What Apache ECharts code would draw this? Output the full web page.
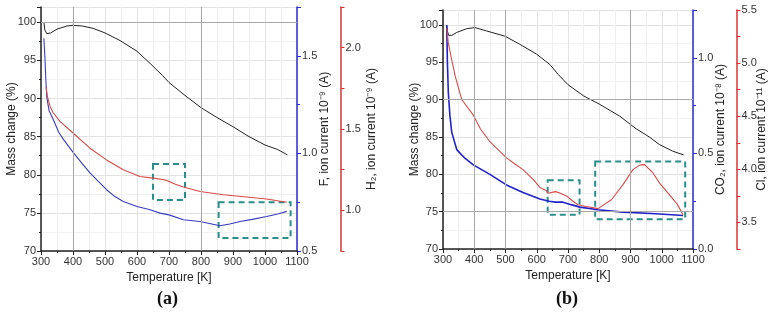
<!DOCTYPE html>
<html>
<head>
<meta charset="utf-8">
<script src="https://cdn.jsdelivr.net/npm/echarts@6/dist/echarts.min.js"></script>
<style>
  html, body { margin: 0; padding: 0; background: #fff; }
  #chart { width: 776px; height: 313px; }
</style>
</head>
<body>
<div id="chart"></div>
<script>
  // panel (a)
  const tempMassA = [309, 312, 318, 330, 350, 380, 400, 430, 463, 500, 547, 600, 641, 680, 700, 750, 800, 850, 900, 950, 1000, 1040, 1070]
  const massA = [100.0, 99.0, 98.5, 98.6, 99.1, 99.5, 99.6, 99.5, 99.2, 98.6, 97.6, 96.2, 94.6, 93.0, 92.1, 90.4, 88.8, 87.5, 86.3, 85.0, 83.9, 83.3, 82.6]
  const tempFA = [309, 312, 315, 318, 325, 338, 355, 370, 401, 430, 453, 480, 505, 530, 557, 600, 641, 672, 700, 745, 797, 830, 859, 890, 922, 960, 1005, 1040, 1068]
  const fCurrent = [1.59, 1.50, 1.38, 1.29, 1.22, 1.175, 1.11, 1.072, 1.004, 0.945, 0.90, 0.855, 0.814, 0.78, 0.754, 0.728, 0.711, 0.694, 0.685, 0.66, 0.651, 0.640, 0.629, 0.638, 0.651, 0.662, 0.677, 0.690, 0.703]
  const tempH2A = [316, 320, 328, 338, 360, 401, 453, 505, 557, 609, 651, 680, 693, 720, 745, 797, 870, 943, 1005, 1068]
  const h2Current = [1.76, 1.70, 1.64, 1.60, 1.545, 1.474, 1.382, 1.31, 1.249, 1.208, 1.198, 1.19, 1.184, 1.16, 1.143, 1.116, 1.096, 1.082, 1.07, 1.05]

  // panel (b)
  const tempMassB = [312, 314, 318, 328, 344, 376, 402, 439, 498, 546, 599, 642, 668, 700, 750, 800, 865, 918, 960, 992, 1035, 1070]
  const massB = [100.0, 99.2, 98.6, 98.6, 99.0, 99.5, 99.65, 99.2, 98.5, 97.4, 96.1, 94.7, 93.4, 92.0, 90.5, 89.4, 87.8, 86.1, 85.0, 84.0, 83.1, 82.6]
  const tempCO2B = [312, 314, 317, 322, 328, 344, 370, 397, 450, 503, 556, 610, 640, 660, 684, 710, 738, 796, 876, 982, 1068]
  const co2Current = [1.17, 0.98, 0.82, 0.70, 0.61, 0.52, 0.475, 0.44, 0.39, 0.335, 0.295, 0.262, 0.25, 0.245, 0.245, 0.232, 0.219, 0.205, 0.193, 0.184, 0.175]
  const tempClB = [312, 317, 323, 339, 360, 397, 420, 450, 482, 503, 530, 556, 590, 610, 630, 636, 642, 660, 674, 695, 716, 732, 759, 796, 839, 876, 908, 929, 945, 972, 993, 1025, 1050, 1068]
  const clCurrent = [5.33, 5.19, 5.10, 4.877, 4.657, 4.51, 4.38, 4.26, 4.17, 4.108, 4.05, 3.997, 3.90, 3.83, 3.80, 3.775, 3.79, 3.79, 3.777, 3.75, 3.70, 3.667, 3.65, 3.63, 3.714, 3.856, 3.997, 4.04, 4.044, 3.966, 3.87, 3.76, 3.67, 3.573]

  // dashed boxes [x1, y1, x2, y2] in temperature / mass units
  const boxesA = [[650, 81.4, 750, 76.7], [855, 76.4, 1080, 71.7]]
  const boxesB = [[635, 79.2, 737, 74.6], [787, 81.7, 1075, 74.0]]
  // darker grid lines
  const darkXA = [400, 800], darkYA = [100]
  const darkXB = [400, 500, 900], darkYB = [90, 75]

  const zip = (xs, ys) => xs.map((x, i) => [x, ys[i]])
  const FONT = 'Liberation Sans'
  const BLUE = '#2b2bcf', RED = '#d83434', TEAL = '#2a8f88'

  function xAxisFor(gridIndex) {
    return {
      gridIndex, type: 'value', min: 300, max: 1100, interval: 100,
      name: 'Temperature [K]', nameLocation: 'middle', nameGap: 13,
      nameTextStyle: {fontFamily: FONT, fontSize: 12, color: '#222'},
      axisLine: {lineStyle: {color: '#222', width: 1.5}},
      axisTick: {length: 4, lineStyle: {color: '#222'}},
      minorTick: {show: true, splitNumber: 2, length: 2, lineStyle: {color: '#222'}},
      axisLabel: {fontFamily: FONT, fontSize: 11, color: '#333', margin: 5, formatter: v => String(v)},
      splitLine: {show: true, lineStyle: {color: '#e4e4e4'}},
      minorSplitLine: {show: true, lineStyle: {color: '#f0f0f0'}}
    }
  }

  function massAxis(gridIndex, nameGap) {
    return {
      gridIndex, type: 'value', position: 'left', min: 70, max: 102, interval: 5,
      name: 'Mass change (%)', nameLocation: 'middle', nameRotate: 90, nameGap,
      nameMoveOverlap: false,
      nameTextStyle: {fontFamily: FONT, fontSize: 12, color: '#222'},
      axisLine: {show: true, lineStyle: {color: '#222', width: 1.5}},
      axisTick: {length: 4, lineStyle: {color: '#222'}},
      minorTick: {show: true, splitNumber: 2, length: 2, lineStyle: {color: '#222'}},
      axisLabel: {fontFamily: FONT, fontSize: 11, color: '#333', margin: 5,
        formatter: v => (v % 5 === 0 ? String(v) : '')},
      splitLine: {show: true, lineStyle: {color: '#e2e2e2'}},
      minorSplitLine: {show: true, lineStyle: {color: '#f2f2f2'}}
    }
  }

  function currentAxis(gridIndex, name, min, max, interval, color, offset, nameGap, minor, labelStep) {
    return {
      gridIndex, type: 'value', position: 'right', offset, min, max, interval,
      name, nameLocation: 'middle', nameRotate: 90, nameGap,
      nameMoveOverlap: false,
      nameTextStyle: {fontFamily: FONT, fontSize: 12, color: '#222'},
      axisLine: {show: true, lineStyle: {color, width: 1.5}},
      axisTick: {show: true, length: 4, lineStyle: {color}},
      minorTick: {show: minor, splitNumber: 2, length: 3, lineStyle: {color}},
      axisLabel: {fontFamily: FONT, fontSize: 11, color: '#333', margin: 5,
        formatter: v => {
          const k = Math.round(v / labelStep)
          return Math.abs(k * labelStep - v) < 1e-6 ? v.toFixed(1) : ''
        }},
      splitLine: {show: false}
    }
  }

  function boxArea(boxes) {
    return {
      silent: true,
      itemStyle: {color: 'rgba(0,0,0,0)', borderColor: TEAL, borderWidth: 2, borderType: [6, 4]},
      data: boxes.map(b => [{coord: [b[0], b[1]]}, {coord: [b[2], b[3]]}])
    }
  }

  function darkLines(xs, ys) {
    return {
      silent: true, symbol: 'none', label: {show: false},
      lineStyle: {color: '#a8a8a8', width: 1, type: 'solid'},
      data: xs.map(x => ({xAxis: x})).concat(ys.map(y => ({yAxis: y})))
    }
  }

  function line(data, xAxisIndex, yAxisIndex, color, width, extra) {
    return Object.assign({
      type: 'line', data, xAxisIndex, yAxisIndex, showSymbol: false, symbol: 'none',
      lineStyle: {color, width}, itemStyle: {color}, animation: false, z: 3
    }, extra || {})
  }

  let myChart = echarts.init(document.getElementById('chart'), null, {renderer: 'canvas'})
  myChart.setOption({
    animation: false,
    grid: [
      {left: 41, top: 7, width: 256, height: 244},
      {left: 443, top: 10, width: 250, height: 239}
    ],
    xAxis: [xAxisFor(0), xAxisFor(1)],
    yAxis: [
      massAxis(0, 23),
      currentAxis(0, 'F, ion current 10⁻⁹ (A)', 0.5, 1.75, 0.5, BLUE, 0, 22, true, 0.5),
      currentAxis(0, 'H₂, ion current 10⁻⁹ (A)', 0.75, 2.25, 0.25, RED, 43.5, 25, false, 0.5),
      massAxis(1, 22),
      currentAxis(1, 'CO₂, ion current 10⁻⁸ (A)', 0, 1.25, 0.5, BLUE, 0, 22, true, 0.5),
      currentAxis(1, 'Cl, ion current 10⁻¹¹ (A)', 3.25, 5.5, 0.25, RED, 43.5, 19, false, 0.5)
    ],
    series: [
      line(zip(tempMassA, massA), 0, 0, '#222', 1,
        {markArea: boxArea(boxesA), markLine: darkLines(darkXA, darkYA)}),
      line(zip(tempFA, fCurrent), 0, 1, '#3b3bbf', 1.1),
      line(zip(tempH2A, h2Current), 0, 2, '#d84a4a', 1.1),
      line(zip(tempMassB, massB), 1, 3, '#222', 1,
        {markArea: boxArea(boxesB), markLine: darkLines(darkXB, darkYB)}),
      line(zip(tempCO2B, co2Current), 1, 4, '#2222c8', 1.6),
      line(zip(tempClB, clCurrent), 1, 5, '#d84a4a', 1.1)
    ],
    graphic: [
      {type: 'text', left: 157, top: 290, style: {text: '(a)', font: 'bold 18px "Liberation Serif"', fill: '#111'}},
      {type: 'text', left: 556, top: 290, style: {text: '(b)', font: 'bold 18px "Liberation Serif"', fill: '#111'}}
    ]
  })
</script>
</body>
</html>
